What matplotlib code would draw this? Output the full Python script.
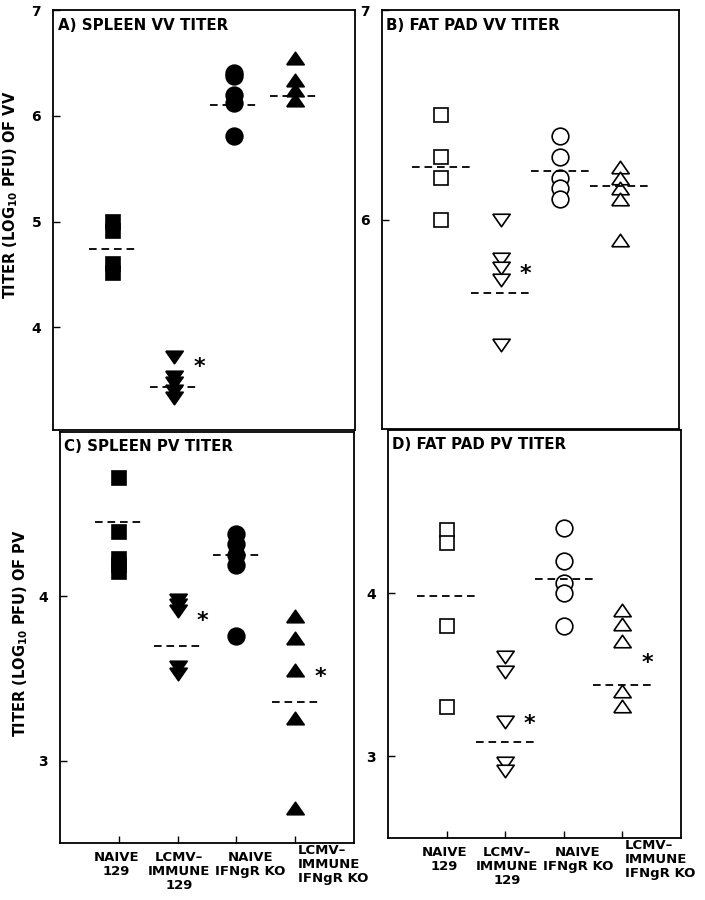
import matplotlib
matplotlib.use('Agg')
import matplotlib.pyplot as plt

plt.rcParams['font.family'] = ['DejaVu Sans']
plt.rcParams['font.weight'] = 'bold'
plt.rcParams['mathtext.default'] = 'bf'
plt.rcParams['lines.scale_dashes'] = False

# ---------------- data ----------------
group_labels = ['NAIVE\n129', 'LCMV\u2013\nIMMUNE\n129', 'NAIVE\nIFNgR KO', 'LCMV\u2013\nIMMUNE\nIFNgR KO']
group_pos = [1, 2, 3, 4]

# A) spleen VV titer (log10 PFU)
spleen_vv = [
    [5.00, 4.91, 4.60, 4.51],
    [3.72, 3.53, 3.47, 3.40, 3.33],
    [6.40, 6.38, 6.20, 6.12, 5.81],
    [6.55, 6.34, 6.24, 6.15],
]
spleen_vv_mean = [4.74, 3.44, 6.10, 6.19]
spleen_vv_star = [(2, 3.63)]

# B) fat pad VV titer
fatpad_vv = [
    [6.50, 6.30, 6.20, 6.00],
    [6.00, 5.81, 5.77, 5.71, 5.40],
    [6.40, 6.30, 6.20, 6.15, 6.10],
    [6.25, 6.20, 6.15, 6.10, 5.90],
]
fatpad_vv_mean = [6.25, 5.65, 6.23, 6.16]
fatpad_vv_star = [(2, 5.74)]

# C) spleen PV titer
spleen_pv = [
    [4.72, 4.39, 4.23, 4.19, 4.15],
    [3.98, 3.95, 3.91, 3.57, 3.53],
    [4.38, 4.32, 4.25, 4.19, 3.76],
    [3.88, 3.75, 3.55, 3.26, 2.71],
]
spleen_pv_mean = [4.45, 3.70, 4.25, 3.36]
spleen_pv_star = [(2, 3.85), (4, 3.51)]

# D) fat pad PV titer
fatpad_pv = [
    [4.39, 4.31, 3.80, 3.30],
    [3.61, 3.52, 3.21, 2.96, 2.91],
    [4.40, 4.20, 4.06, 4.00, 3.80],
    [3.90, 3.81, 3.71, 3.40, 3.31],
]
fatpad_pv_mean = [3.98, 3.09, 4.09, 3.44]
fatpad_pv_star = [(2, 3.20), (4, 3.57)]

# ---------------- styling ----------------
TRI_UP = [(-1, -0.72), (1, -0.72), (0, 0.72), (-1, -0.72)]
TRI_DN = [(-1, 0.72), (1, 0.72), (0, -0.72), (-1, 0.72)]
markers = ['s', TRI_DN, 'o', TRI_UP]
msizes = [10, 12.5, 12, 12.5]

W, H = 705, 900
fig = plt.figure(figsize=(W / 100, H / 100), dpi=100)


def px_axes(l, t, r, b):
    return fig.add_axes([l / W, 1 - b / H, (r - l) / W, (b - t) / H])


def draw_panel(ax, data, means, stars, title, ylim, yticks, filled, hw, xlabels):
    for g, vals, mk, ms in zip(group_pos, data, markers, msizes):
        ax.plot([g] * len(vals), vals, linestyle='none', marker=mk, markersize=ms,
                markerfacecolor='black' if filled else 'white',
                markeredgecolor='black', markeredgewidth=1.2, zorder=3)
    for g, m in zip(group_pos, means):
        ax.plot([g - hw, g + hw], [m, m], color='black', lw=1.3,
                linestyle=(0, (5.5, 3.5)), zorder=4)
    for g, y in stars:
        ax.text(g + 0.42, y, '*', fontsize=16, fontweight='bold',
                ha='center', va='center', zorder=5)
    ax.set_xlim(0, 5)
    ax.set_ylim(*ylim)
    ax.set_yticks(yticks)
    ax.set_yticklabels([str(t) for t in yticks], fontsize=10, fontweight='bold')
    ax.tick_params(axis='y', direction='in', length=5, width=1, pad=8.5)
    ax.text(0.015, 0.982, title, transform=ax.transAxes, ha='left', va='top',
            fontsize=10.8, fontweight='bold')
    for s in ax.spines.values():
        s.set_linewidth(1.3)
    if xlabels:
        ax.set_xticks(group_pos)
        ax.set_xticklabels([''] * 4)
        ax.tick_params(axis='x', direction='in', length=5, width=1)
        offs = [(-0.04, 'center', -8), (0.03, 'center', -8),
                (0.24, 'center', -8), (0.04, 'left', -1)]
        for g, lab, (dx, ha, dy) in zip(group_pos, group_labels, offs):
            ax.annotate(lab, xy=(g + dx, 0), xycoords=('data', 'axes fraction'),
                        xytext=(0, dy), textcoords='offset pixels',
                        ha=ha, va='top', multialignment=ha,
                        fontsize=9.5, fontweight='bold', linespacing=1.12,
                        annotation_clip=False)
    else:
        ax.set_xticks([])


axA = px_axes(53, 10, 355, 430)
axB = px_axes(382, 10, 679, 429)
axC = px_axes(60, 432, 354, 843)
axD = px_axes(388, 430, 681, 838)

draw_panel(axA, spleen_vv, spleen_vv_mean, spleen_vv_star, 'A) SPLEEN VV TITER',
           (3.03, 7.0), [4, 5, 6, 7], True, 0.4, False)
draw_panel(axB, fatpad_vv, fatpad_vv_mean, fatpad_vv_star, 'B) FAT PAD VV TITER',
           (5.0, 7.0), [6, 7], False, 0.5, False)
draw_panel(axC, spleen_pv, spleen_pv_mean, spleen_pv_star, 'C) SPLEEN PV TITER',
           (2.5, 5.0), [3, 4], True, 0.4, True)
draw_panel(axD, fatpad_pv, fatpad_pv_mean, fatpad_pv_star, 'D) FAT PAD PV TITER',
           (2.5, 5.0), [3, 4], False, 0.5, True)

fig.text(11 / W, 1 - 195 / H, r'TITER (LOG$_{10}$ PFU) OF VV', rotation=90,
         ha='center', va='center', fontsize=10.5, fontweight='bold')
fig.text(21 / W, 1 - 633 / H, r'TITER (LOG$_{10}$ PFU) OF PV', rotation=90,
         ha='center', va='center', fontsize=10.5, fontweight='bold')

fig.savefig('out.png', dpi=100, facecolor='white')
